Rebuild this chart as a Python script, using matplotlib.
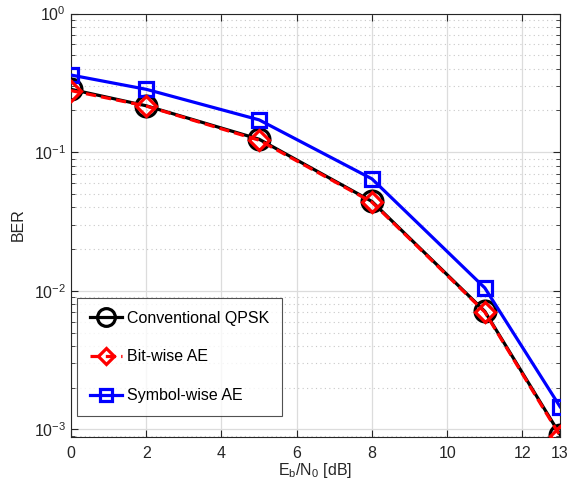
import matplotlib
matplotlib.use("Agg")
import matplotlib.pyplot as plt
from matplotlib.ticker import LogLocator, NullFormatter, FixedLocator

plt.rcParams['font.family'] = ['Liberation Sans', 'DejaVu Sans']
plt.rcParams['mathtext.fontset'] = 'custom'
plt.rcParams['mathtext.rm'] = 'Liberation Sans'
plt.rcParams['mathtext.it'] = 'Liberation Sans'
plt.rcParams['mathtext.default'] = 'regular'

ebn0 = [0, 2, 5, 8, 11, 13]
conv_qpsk = [0.284, 0.216, 0.124, 0.0441, 0.00711, 0.00092]
bitwise_ae = [0.278, 0.215, 0.122, 0.0436, 0.00703, 0.00090]
symbolwise_ae = [0.360, 0.284, 0.171, 0.0642, 0.0105, 0.00146]
xticks = [0, 2, 4, 6, 8, 10, 12, 13]
labels = ['Conventional QPSK', 'Bit-wise AE', 'Symbol-wise AE']

fig = plt.figure(figsize=(5.68, 4.93), dpi=100)
ax = fig.add_axes([0.125, 0.1146, 0.861, 0.858])

ax.semilogy(ebn0, conv_qpsk, '-', color='black', lw=2.3, marker='o',
            ms=15, mfc='none', mec='black', mew=2.3, label=labels[0], zorder=3)
ax.semilogy(ebn0, bitwise_ae, '--', color='red', lw=2.3, marker='D',
            ms=10, mfc='none', mec='red', mew=2.3, label=labels[1], zorder=4,
            dashes=(3.2, 1.6))
ax.semilogy(ebn0, symbolwise_ae, '-', color='blue', lw=2.3, marker='s',
            ms=10, mfc='none', mec='blue', mew=2.3, label=labels[2], zorder=3)

ax.set_xlim(0, 13)
ax.set_ylim(8.9e-4, 1)
ax.xaxis.set_major_locator(FixedLocator(xticks))
ax.yaxis.set_major_locator(LogLocator(base=10, numticks=10))
ax.yaxis.set_minor_locator(LogLocator(base=10, subs=range(2, 10), numticks=20))
ax.yaxis.set_minor_formatter(NullFormatter())

ax.grid(True, which='major', color='#dcdcdc', lw=0.9, ls='-')
ax.grid(True, which='minor', axis='y', color='#c8c8c8', lw=0.8, ls=(0, (1, 3)))
ax.set_axisbelow(True)

ax.tick_params(which='both', direction='in', top=True, right=True,
               labelsize=11.5, colors='#262626')
ax.tick_params(which='major', length=5, width=0.8)
ax.tick_params(which='minor', length=3, width=0.6)
ax.tick_params(axis='x', which='major', pad=7)
for s in ax.spines.values():
    s.set_color('#262626')
    s.set_linewidth(0.8)

ax.set_xlabel(r'E$_\mathrm{b}$/N$_0$ [dB]', fontsize=11.5, color='#262626', labelpad=0)
ax.set_ylabel('BER', fontsize=11.5, color='#262626', labelpad=6)

leg = ax.legend(loc='lower left', bbox_to_anchor=(0.012, 0.048), fontsize=11.5,
                frameon=True, fancybox=False, edgecolor='#262626',
                handlelength=2.0, labelspacing=1.5, borderpad=0.8,
                handletextpad=0.35, borderaxespad=0.0, markerscale=0.85)
leg.get_frame().set_linewidth(0.8)

fig.savefig('out.png', dpi=100)
